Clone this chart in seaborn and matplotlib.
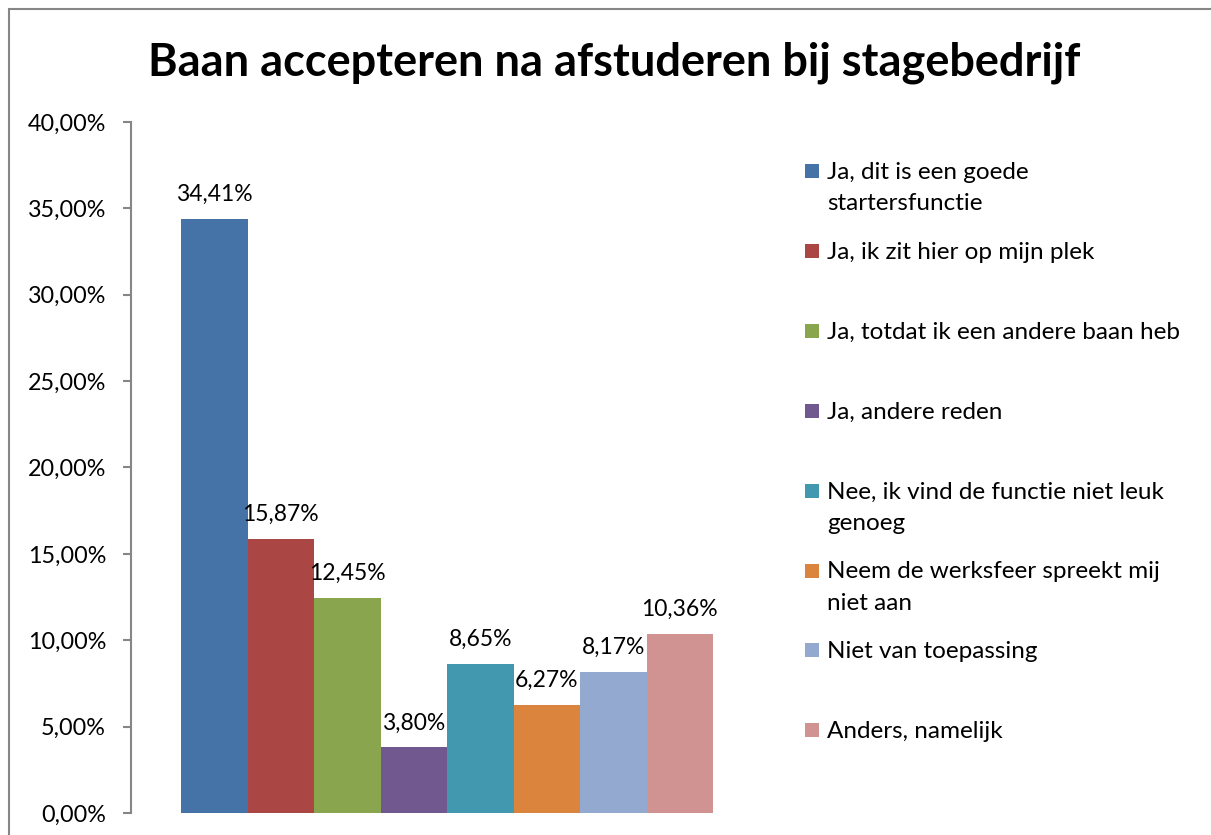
import numpy as np
import pandas as pd
import seaborn as sns
from matplotlib import pyplot as plt
from matplotlib.patches import Rectangle
from matplotlib.ticker import FuncFormatter, MultipleLocator

# data
antwoorden = [
    'Ja, dit is een goede\nstartersfunctie',
    'Ja, ik zit hier op mijn plek',
    'Ja, totdat ik een andere baan heb',
    'Ja, andere reden',
    'Nee, ik vind de functie niet leuk\ngenoeg',
    'Neem de werksfeer spreekt mij\nniet aan',
    'Niet van toepassing',
    'Anders, namelijk',
]
percentages = [34.41, 15.87, 12.45, 3.80, 8.65, 6.27, 8.17, 10.36]
kleuren = ['#4572A7', '#AA4643', '#89A54E', '#71588F',
           '#4198AF', '#DB843D', '#93A9CF', '#D19392']

W, H = 1211, 835

sns.set_theme(style='white')
plt.rcParams['font.family'] = ['Lato', 'DejaVu Sans']

df = pd.DataFrame({'groep': [''] * len(antwoorden),
                   'antwoord': antwoorden,
                   'aandeel': percentages})

fig = plt.figure(figsize=(W / 100, H / 100), dpi=100)
ax = fig.add_axes([131 / W, 1 - 813 / H, 632 / W, 691 / H])

sns.barplot(data=df, x='groep', y='aandeel', hue='antwoord',
            hue_order=antwoorden, palette=kleuren, saturation=1,
            width=532 / 632, linewidth=0, legend=False, ax=ax)

ax.set_xlim(-0.5, 0.5)
ax.set_ylim(0, 40)
ax.yaxis.set_major_locator(MultipleLocator(5))
ax.yaxis.set_major_formatter(FuncFormatter(lambda v, p: f'{v:.2f}%'.replace('.', ',')))
ax.set_xticks([])
ax.set_xlabel('')
ax.set_ylabel('')

for s in ['top', 'right', 'bottom']:
    ax.spines[s].set_visible(False)
ax.spines['left'].set_color('#868686')
ax.spines['left'].set_linewidth(1.5)
ax.tick_params(axis='y', left=True, direction='out', length=6, width=1.5,
               color='#868686', labelsize=16.8, pad=12, labelcolor='black')

for cont in ax.containers:
    ax.bar_label(cont, labels=[f'{v:.2f}%'.replace('.', ',') for v in cont.datavalues],
                 padding=10, fontsize=16.5, color='black')

# title
fig.text(614 / W, 1 - 75 / H, 'Baan accepteren na afstuderen bij stagebedrijf',
         ha='center', va='baseline', fontsize=32.5, fontweight='bold', color='black')

# legend, laid out like the Excel one (one text per line)
for i, (lab, kl) in enumerate(zip(antwoorden, kleuren)):
    base = 179 + i * 79.9
    fig.add_artist(Rectangle((805 / W, 1 - (base - 1) / H), 14 / W, 14 / H,
                             transform=fig.transFigure, facecolor=kl, edgecolor='none'))
    for j, regel in enumerate(lab.split('\n')):
        fig.text(827 / W, 1 - (base + j * 31) / H, regel, ha='left', va='baseline',
                 fontsize=17.5, color='black')

# chart border (cut off at the right and bottom in the reference)
fig.add_artist(Rectangle((8.5 / W, -0.1), 1.2, 1.1 - 9.5 / H, transform=fig.transFigure,
                         fill=False, edgecolor='#868686', linewidth=1.5, clip_on=False))

fig.savefig('out.png', dpi=100)
